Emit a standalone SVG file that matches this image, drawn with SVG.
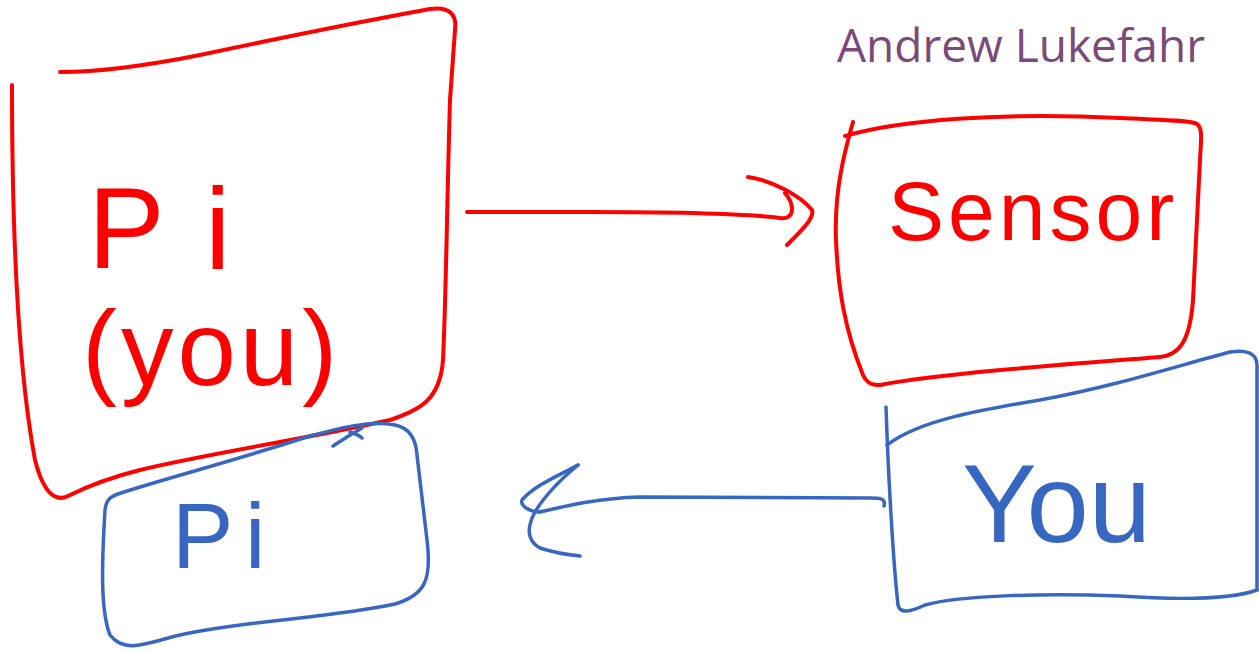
<svg xmlns="http://www.w3.org/2000/svg" width="1259" height="652" viewBox="0 0 1259 652">
<style>
.red{fill:none;stroke:#FF0000;stroke-width:4;stroke-linecap:round;stroke-linejoin:round}
.blue{fill:none;stroke:#3767C0;stroke-width:3.5;stroke-linecap:round;stroke-linejoin:round}
.hr{font-family:"Liberation Sans",Arial,sans-serif;fill:#FF0000}
.hb{font-family:"Liberation Sans",Arial,sans-serif;fill:#3767C0}
.title{font-family:"Open Sans","Noto Sans",sans-serif;fill:#7B4A7A;font-size:46px}
</style>
<rect width="1259" height="652" fill="#FFFFFF"/>
<text class="title" x="837" y="62">Andrew Lukefahr</text>

<g id="node-pi-you">
<path class="red" d="M60,72 C100,72 150,65 200,55 C280,38 370,20 430,9 C450,6 457,15 455,30 L450,100 C447,200 446,300 443,360 C440,400 420,410 390,420 C300,440 200,455 140,470 C100,480 80,490 68,496 C50,505 40,480 35,460 C20,380 12,250 12,85"/>
<text class="hr" font-size="115" x="88" y="268">P<tspan x="205">i</tspan></text>
<text class="hr" font-size="105" x="82" y="385" letter-spacing="4">(you)</text>
</g>

<g id="node-sensor">
<path class="red" d="M845,136 C900,120 1000,112 1120,118 C1160,120 1190,120 1197,124 C1203,128 1201,140 1200,160 L1193,300 C1190,340 1180,355 1160,357 C1100,362 950,372 880,385 C870,386 865,380 863,375 C845,330 838,290 836,240 C834,190 845,150 853,122"/>
<text class="hr" font-size="84" x="888" y="240" letter-spacing="4">Sensor</text>
</g>

<g id="node-pi">
<path class="blue" d="M118,494 C160,480 230,462 310,436 C340,428 370,420 395,425 C410,428 416,440 417,455 L427,540 C432,580 425,595 395,604 C330,618 250,620 180,635 C150,642 125,655 110,635 C100,610 102,560 105,510 C106,500 110,497 118,494 Z"/>
<path class="blue" d="M333,446 C345,438 355,432 362,428 M350,432 C356,434 360,436 362,438"/>
<text class="hb" font-size="92" x="172" y="568">P<tspan x="245">i</tspan></text>
</g>

<g id="node-you">
<path class="blue" d="M886,407 C888,470 893,560 898,605 C900,614 910,612 925,605 C960,595 1050,593 1120,596 C1180,600 1230,600 1257,590"/>
<path class="blue" d="M887,445 C920,420 980,410 1040,400 C1120,385 1180,365 1230,352 C1245,350 1257,352 1257,365 L1257,590"/>
<text class="hb" font-size="112" x="962" y="542">You</text>
</g>

<g id="connectors">
<path class="red" d="M467,212 L590,212 C680,212 740,213 780,218 C795,220 795,205 785,193"/>
<path class="red" d="M748,177 C770,180 800,195 812,210 C815,218 800,232 787,245"/>
<path class="blue" d="M884,506 C886,498 880,498 870,498 L640,497 C600,498 570,505 540,512"/>
<path class="blue" d="M578,465 C560,480 545,495 535,512 C528,525 525,540 540,548 C555,553 570,555 580,556"/>
<path class="blue" d="M578,465 C560,475 535,485 522,500 C520,506 530,512 540,512"/>
</g>
</svg>
